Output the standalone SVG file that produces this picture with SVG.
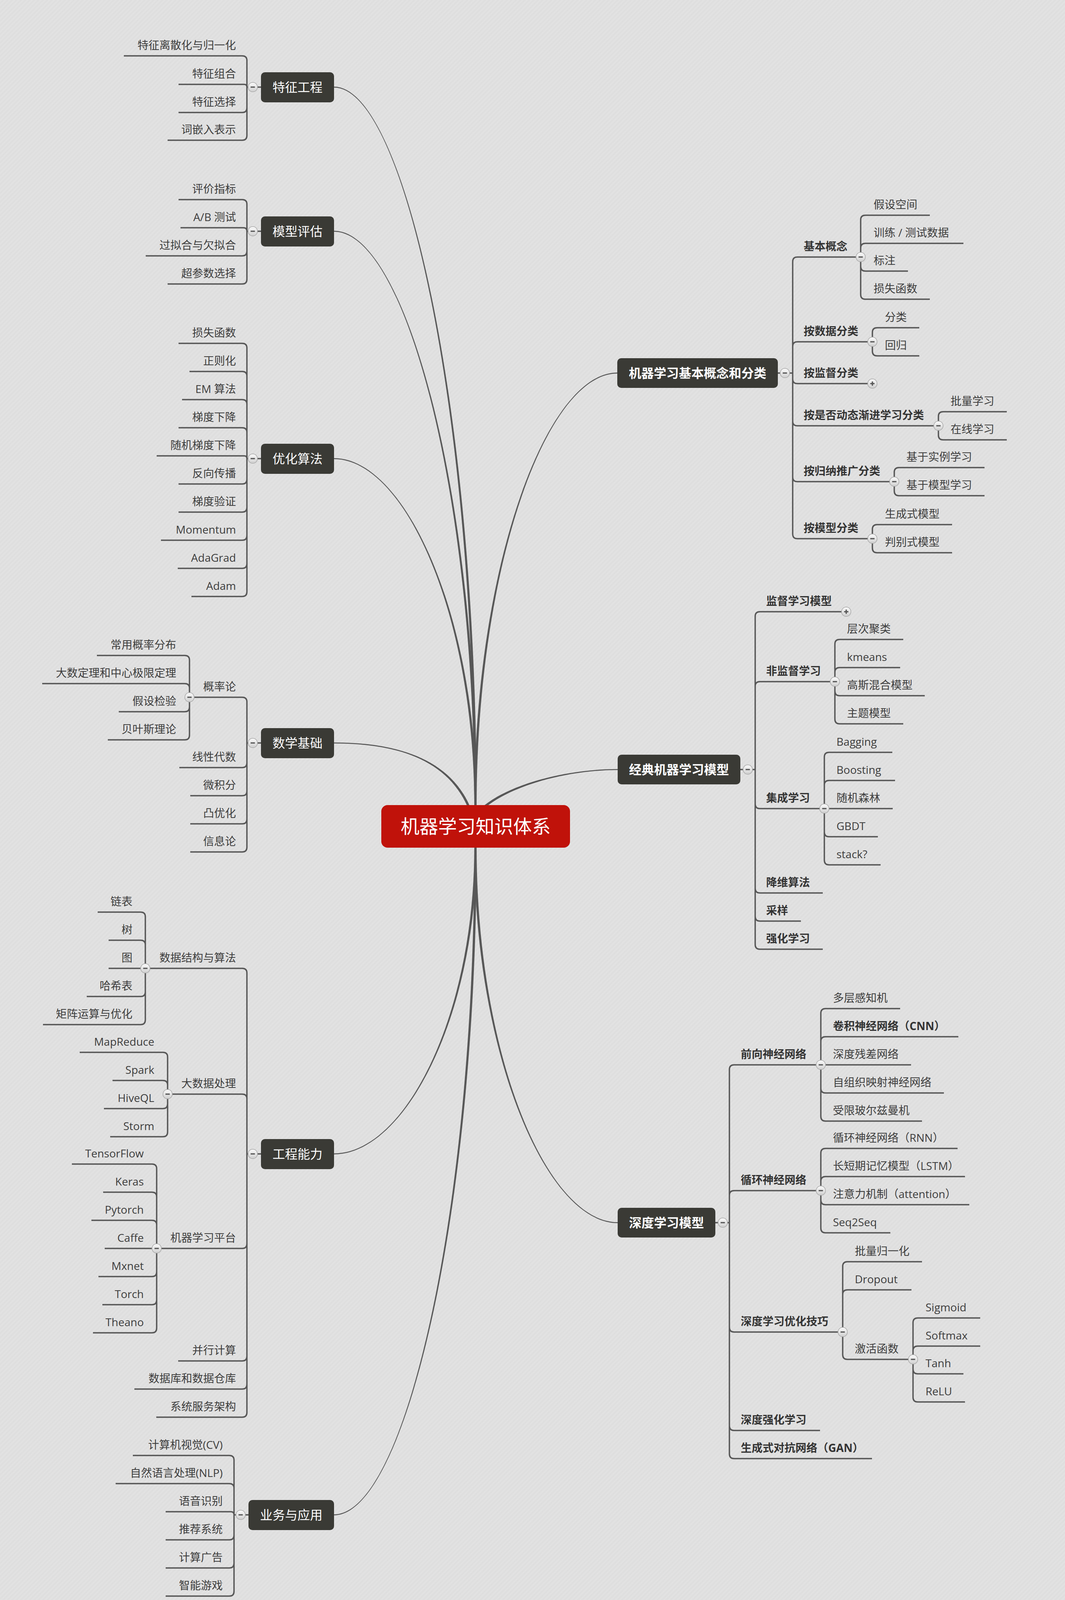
<svg xmlns="http://www.w3.org/2000/svg" xmlns:xlink="http://www.w3.org/1999/xlink" width="2726" height="4228" viewBox="0 0 2726 4228">
<defs>
<style>
text{font-family:"Open Sans","Noto Sans CJK SC",sans-serif}
.c{fill:none;stroke:#575757;stroke-width:3.5}
.m{fill:#575757}
.nb{fill:#3a3a35}
.nt{font-size:32px;fill:#ffffff;text-anchor:middle}
.t{font-size:28px;fill:#3d3d3d}
.e{text-anchor:end}
.b{font-weight:bold;fill:#333333}
.rt{font-size:48px;fill:#ffffff;text-anchor:middle}
</style>
<pattern id="bg" width="8" height="8" patternUnits="userSpaceOnUse" patternTransform="rotate(45)">
<rect width="8" height="8" fill="#dedede"/>
<rect width="4" height="8" fill="#e2e2e2"/>
</pattern>
<linearGradient id="tg" x1="0" y1="0" x2="0" y2="1">
<stop offset="0" stop-color="#fbfbfb"/>
<stop offset="1" stop-color="#cfcfcf"/>
</linearGradient>
<g id="tm"><circle r="12" fill="url(#tg)" stroke="#a9a9a9" stroke-width="1.5"/><rect x="-5.5" y="-1.6" width="11" height="3.2" fill="#555555"/></g>
<g id="tp"><circle r="12" fill="url(#tg)" stroke="#a9a9a9" stroke-width="1.5"/><rect x="-5.5" y="-1.6" width="11" height="3.2" fill="#555555"/><rect x="-1.6" y="-5.5" width="3.2" height="11" fill="#555555"/></g>
</defs>
<rect width="2726" height="4228" fill="url(#bg)"/>

<g id="connectors">
<g id="main-curves">
<path class="m" d="M855,221.75C1036,221.75 1220,1051 1220,2063L1220,2090L1214,2090L1214,2063C1214,1051 1036,224.25 855,224.25Z"/>
<path class="m" d="M855,590.75C1036,590.75 1220,1254 1220,2063L1220,2090L1214,2090L1214,2063C1214,1254 1036,593.25 855,593.25Z"/>
<path class="m" d="M855,1172.75C1036,1172.75 1220,1574 1220,2063L1220,2090L1214,2090L1214,2063C1214,1574 1036,1175.25 855,1175.25Z"/>
<path class="m" d="M855,1900.75C1000,1900.75 1152.8,1933.9 1206.8,2073.9L1201.2,2076.1C1147.2,1936.1 1000,1903.25 855,1903.25Z"/>
<path class="m" d="M1580,956.25C1398,956.25 1220,1454 1220,2063L1220,2090L1214,2090L1214,2063C1214,1454 1398,953.75 1580,953.75Z"/>
<path class="m" d="M1581,1971.25C1450,1971.25 1302,2012.2 1234,2074.2L1230,2069.8C1298,2007.8 1450,1968.75 1581,1968.75Z"/>
<path class="m" d="M855,2952.75C1036,2952.75 1214,2601 1214,2170L1214,2145L1220,2145L1220,2170C1220,2601 1036,2955.25 855,2955.25Z"/>
<path class="m" d="M855,3876.75C1036,3876.75 1214,3109 1214,2170L1214,2145L1220,2145L1220,2170C1220,3109 1036,3879.25 855,3879.25Z"/>
<path class="m" d="M1581,3131.25C1399,3131.25 1214,2698 1214,2170L1214,2145L1220,2145L1220,2170C1220,2698 1399,3128.75 1581,3128.75Z"/>
</g>
<g id="branches">
<path class="c" d="M668,223H632M632,223V155Q632,143 620,143H317M632,223Q632,216 625,216H457M632,223V276Q632,288 620,288H457M632,223V347Q632,359 620,359H429"/>
<path class="c" d="M668,592H632M632,592V523Q632,511 620,511H457M632,592Q632,583 623,583H462M632,592V643Q632,655 620,655H373M632,592V715Q632,727 620,727H429"/>
<path class="c" d="M668,1174H632M632,1174V891Q632,879 620,879H457M632,1174V963Q632,951 620,951H485M632,1174V1035Q632,1023 620,1023H466M632,1174V1107Q632,1095 620,1095H457M632,1174Q632,1167 625,1167H401M632,1174V1227Q632,1239 620,1239H457M632,1174V1299Q632,1311 620,1311H457M632,1174V1371Q632,1383 620,1383H412M632,1174V1443Q632,1455 620,1455H455M632,1174V1515Q632,1527 620,1527H490"/>
<path class="c" d="M668,1902H632M632,1902V1797Q632,1785 620,1785H485M485,1785V1690Q485,1678 473,1678H248M485,1785V1762Q485,1750 473,1750H108M485,1785V1810Q485,1822 473,1822H304M485,1785V1882Q485,1894 473,1894H276M632,1902V1953Q632,1965 620,1965H459M632,1902V2025Q632,2037 620,2037H487M632,1902V2097Q632,2109 620,2109H487M632,1902V2169Q632,2181 620,2181H487"/>
<path class="c" d="M668,2954H632M632,2954V2491Q632,2479 620,2479H372M372,2479V2347Q372,2335 360,2335H250M372,2479V2419Q372,2407 360,2407H278M372,2479H278M372,2479V2539Q372,2551 360,2551H222M372,2479V2611Q372,2623 360,2623H110M632,2954V2813Q632,2801 620,2801H429M429,2801V2706Q429,2694 417,2694H204M429,2801V2778Q429,2766 417,2766H288M429,2801V2826Q429,2838 417,2838H266M429,2801V2898Q429,2910 417,2910H282M632,2954V3184Q632,3196 620,3196H401M401,3196V2992Q401,2980 389,2980H184M401,3196V3064Q401,3052 389,3052H264M401,3196V3136Q401,3124 389,3124H234M401,3196H268M401,3196V3256Q401,3268 389,3268H252M401,3196V3328Q401,3340 389,3340H262M401,3196V3400Q401,3412 389,3412H238M632,2954V3472Q632,3484 620,3484H456M632,2954V3544Q632,3556 620,3556H344M632,2954V3616Q632,3628 620,3628H400"/>
<path class="c" d="M636,3878H599M599,3878V3738Q599,3726 587,3726H340M599,3878V3810Q599,3798 587,3798H296M599,3878Q599,3870 591,3870H424M599,3878V3930Q599,3942 587,3942H424M599,3878V4002Q599,4014 587,4014H424M599,3878V4074Q599,4086 587,4086H424"/>
<path class="c" d="M1991,955H2029M2029,955V670Q2029,658 2041,658H2203M2203,658V563Q2203,551 2215,551H2380M2203,658V635Q2203,623 2215,623H2466M2203,658V682Q2203,694 2215,694H2324M2203,658V754Q2203,766 2215,766H2380M2029,955V887Q2029,875 2041,875H2233M2233,875V851Q2233,839 2245,839H2353M2233,875V899Q2233,911 2245,911H2353M2029,955V970Q2029,982 2041,982H2233M2029,955V1078Q2029,1090 2041,1090H2402M2402,1090V1066Q2402,1054 2414,1054H2577M2402,1090V1114Q2402,1126 2414,1126H2577M2029,955V1221Q2029,1233 2041,1233H2289M2289,1233V1209Q2289,1197 2301,1197H2520M2289,1233V1257Q2289,1269 2301,1269H2520M2029,955V1367Q2029,1379 2041,1379H2233M2233,1379V1355Q2233,1343 2245,1343H2437M2233,1379V1403Q2233,1415 2245,1415H2437"/>
<path class="c" d="M1895,1970H1933M1933,1970V1578Q1933,1566 1945,1566H2166M1933,1970V1757Q1933,1745 1945,1745H2137M2137,1745V1649Q2137,1637 2149,1637H2312M2137,1745V1721Q2137,1709 2149,1709H2304M2137,1745V1769Q2137,1781 2149,1781H2367M2137,1745V1841Q2137,1853 2149,1853H2312M1933,1970V2058Q1933,2070 1945,2070H2110M2110,2070V1938Q2110,1926 2122,1926H2284M2110,2070V2010Q2110,1998 2122,1998H2291M2110,2070H2285M2110,2070V2130Q2110,2142 2122,2142H2247M2110,2070V2202Q2110,2214 2122,2214H2254M1933,1970V2274Q1933,2286 1945,2286H2106M1933,1970V2346Q1933,2358 1945,2358H2050M1933,1970V2418Q1933,2430 1945,2430H2106"/>
<path class="c" d="M1831,3130H1867M1867,3130V2738Q1867,2726 1879,2726H2101M2101,2726V2594Q2101,2582 2113,2582H2304M2101,2726V2666Q2101,2654 2113,2654H2453M2101,2726H2332M2101,2726V2786Q2101,2798 2113,2798H2416M2101,2726V2858Q2101,2870 2113,2870H2360M1867,3130V3060Q1867,3048 1879,3048H2101M2101,3048V2952Q2101,2940 2113,2940H2451M2101,3048V3024Q2101,3012 2113,3012H2470M2101,3048V3072Q2101,3084 2113,3084H2481M2101,3048V3144Q2101,3156 2113,3156H2279M1867,3130V3398Q1867,3410 1879,3410H2157M2157,3410V3242Q2157,3230 2169,3230H2360M2157,3410V3314Q2157,3302 2169,3302H2333M2157,3410V3468Q2157,3480 2169,3480H2337M2337,3480V3386Q2337,3374 2349,3374H2509M2337,3480V3458Q2337,3446 2349,3446H2509M2337,3480V3505Q2337,3517 2349,3517H2466M2337,3480V3577Q2337,3589 2349,3589H2470M1867,3130V3650Q1867,3662 1879,3662H2099M1867,3130V3722Q1867,3734 1879,3734H2232"/>
</g>
</g>

<g id="toggles">
<use href="#tm" x="647" y="223"/><use href="#tm" x="647" y="592"/><use href="#tm" x="647" y="1174"/><use href="#tm" x="647" y="1902"/><use href="#tm" x="485" y="1785"/>
<use href="#tm" x="647" y="2954"/><use href="#tm" x="372" y="2479"/><use href="#tm" x="429" y="2801"/><use href="#tm" x="401" y="3196"/><use href="#tm" x="616" y="3878"/>
<use href="#tm" x="2009" y="955"/><use href="#tm" x="2203" y="658"/><use href="#tm" x="2233" y="875"/><use href="#tp" x="2233" y="982"/><use href="#tm" x="2402" y="1090"/><use href="#tm" x="2289" y="1233"/><use href="#tm" x="2233" y="1379"/>
<use href="#tm" x="1914" y="1970"/><use href="#tp" x="2166" y="1566"/><use href="#tm" x="2137" y="1745"/><use href="#tm" x="2110" y="2070"/>
<use href="#tm" x="1850" y="3130"/><use href="#tm" x="2101" y="2726"/><use href="#tm" x="2101" y="3048"/><use href="#tm" x="2157" y="3410"/><use href="#tm" x="2337" y="3480"/>
</g>

<g id="root"><rect x="976" y="2061" width="483" height="109" rx="16" fill="#c0120a"/><text class="rt" x="1217.5" y="2133">机器学习知识体系</text></g>

<g id="n1"><rect class="nb" x="668" y="185" width="187" height="77" rx="10"/><text class="nt" x="761.5" y="235">特征工程</text></g>
<g id="n1-1"><text class="t e" x="604" y="126">特征离散化与归一化</text></g>
<g id="n1-2"><text class="t e" x="604" y="199">特征组合</text></g>
<g id="n1-3"><text class="t e" x="604" y="271">特征选择</text></g>
<g id="n1-4"><text class="t e" x="604" y="342">词嵌入表示</text></g>

<g id="n2"><rect class="nb" x="668" y="554" width="187" height="77" rx="10"/><text class="nt" x="761.5" y="604">模型评估</text></g>
<g id="n2-1"><text class="t e" x="604" y="494">评价指标</text></g>
<g id="n2-2"><text class="t e" x="604" y="566">A/B 测试</text></g>
<g id="n2-3"><text class="t e" x="604" y="638">过拟合与欠拟合</text></g>
<g id="n2-4"><text class="t e" x="604" y="710">超参数选择</text></g>

<g id="n3"><rect class="nb" x="668" y="1136" width="187" height="77" rx="10"/><text class="nt" x="761.5" y="1186">优化算法</text></g>
<g id="n3-1"><text class="t e" x="604" y="862">损失函数</text></g>
<g id="n3-2"><text class="t e" x="604" y="934">正则化</text></g>
<g id="n3-3"><text class="t e" x="604" y="1006">EM 算法</text></g>
<g id="n3-4"><text class="t e" x="604" y="1078">梯度下降</text></g>
<g id="n3-5"><text class="t e" x="604" y="1150">随机梯度下降</text></g>
<g id="n3-6"><text class="t e" x="604" y="1222">反向传播</text></g>
<g id="n3-7"><text class="t e" x="604" y="1294">梯度验证</text></g>
<g id="n3-8"><text class="t e" x="604" y="1366">Momentum</text></g>
<g id="n3-9"><text class="t e" x="604" y="1438">AdaGrad</text></g>
<g id="n3-10"><text class="t e" x="604" y="1510">Adam</text></g>

<g id="n4"><rect class="nb" x="668" y="1864" width="187" height="77" rx="10"/><text class="nt" x="761.5" y="1914">数学基础</text></g>
<g id="n4-1"><text class="t e" x="604" y="1768">概率论</text></g>
<g id="n4-1-1"><text class="t e" x="451" y="1661">常用概率分布</text></g>
<g id="n4-1-2"><text class="t e" x="451" y="1733">大数定理和中心极限定理</text></g>
<g id="n4-1-3"><text class="t e" x="451" y="1805">假设检验</text></g>
<g id="n4-1-4"><text class="t e" x="451" y="1877">贝叶斯理论</text></g>
<g id="n4-2"><text class="t e" x="604" y="1948">线性代数</text></g>
<g id="n4-3"><text class="t e" x="604" y="2020">微积分</text></g>
<g id="n4-4"><text class="t e" x="604" y="2092">凸优化</text></g>
<g id="n4-5"><text class="t e" x="604" y="2164">信息论</text></g>

<g id="n5"><rect class="nb" x="668" y="2916" width="187" height="77" rx="10"/><text class="nt" x="761.5" y="2966">工程能力</text></g>
<g id="n5-1"><text class="t e" x="604" y="2462">数据结构与算法</text></g>
<g id="n5-1-1"><text class="t e" x="339" y="2318">链表</text></g>
<g id="n5-1-2"><text class="t e" x="339" y="2390">树</text></g>
<g id="n5-1-3"><text class="t e" x="339" y="2462">图</text></g>
<g id="n5-1-4"><text class="t e" x="339" y="2534">哈希表</text></g>
<g id="n5-1-5"><text class="t e" x="339" y="2606">矩阵运算与优化</text></g>
<g id="n5-2"><text class="t e" x="604" y="2784">大数据处理</text></g>
<g id="n5-2-1"><text class="t e" x="395" y="2677">MapReduce</text></g>
<g id="n5-2-2"><text class="t e" x="395" y="2749">Spark</text></g>
<g id="n5-2-3"><text class="t e" x="395" y="2821">HiveQL</text></g>
<g id="n5-2-4"><text class="t e" x="395" y="2893">Storm</text></g>
<g id="n5-3"><text class="t e" x="604" y="3179">机器学习平台</text></g>
<g id="n5-3-1"><text class="t e" x="368" y="2963">TensorFlow</text></g>
<g id="n5-3-2"><text class="t e" x="368" y="3035">Keras</text></g>
<g id="n5-3-3"><text class="t e" x="368" y="3107">Pytorch</text></g>
<g id="n5-3-4"><text class="t e" x="368" y="3179">Caffe</text></g>
<g id="n5-3-5"><text class="t e" x="368" y="3251">Mxnet</text></g>
<g id="n5-3-6"><text class="t e" x="368" y="3323">Torch</text></g>
<g id="n5-3-7"><text class="t e" x="368" y="3395">Theano</text></g>
<g id="n5-4"><text class="t e" x="604" y="3467">并行计算</text></g>
<g id="n5-5"><text class="t e" x="604" y="3539">数据库和数据仓库</text></g>
<g id="n5-6"><text class="t e" x="604" y="3611">系统服务架构</text></g>

<g id="n6"><rect class="nb" x="636" y="3840" width="219" height="77" rx="10"/><text class="nt" x="745.5" y="3890">业务与应用</text></g>
<g id="n6-1"><text class="t e" x="570" y="3709">计算机视觉(CV)</text></g>
<g id="n6-2"><text class="t e" x="570" y="3781">自然语言处理(NLP)</text></g>
<g id="n6-3"><text class="t e" x="570" y="3853">语音识别</text></g>
<g id="n6-4"><text class="t e" x="570" y="3925">推荐系统</text></g>
<g id="n6-5"><text class="t e" x="570" y="3997">计算广告</text></g>
<g id="n6-6"><text class="t e" x="570" y="4069">智能游戏</text></g>

<g id="n7"><rect class="nb" x="1580" y="917" width="411" height="76" rx="10"/><text class="nt" x="1785.5" y="967" font-weight="bold">机器学习基本概念和分类</text></g>
<g id="n7-1"><text class="t b" x="2057" y="641">基本概念</text></g>
<g id="n7-1-1"><text class="t" x="2236" y="534">假设空间</text></g>
<g id="n7-1-2"><text class="t" x="2236" y="606">训练 / 测试数据</text></g>
<g id="n7-1-3"><text class="t" x="2236" y="677">标注</text></g>
<g id="n7-1-4"><text class="t" x="2236" y="749">损失函数</text></g>
<g id="n7-2"><text class="t b" x="2057" y="858">按数据分类</text></g>
<g id="n7-2-1"><text class="t" x="2265" y="822">分类</text></g>
<g id="n7-2-2"><text class="t" x="2265" y="894">回归</text></g>
<g id="n7-3"><text class="t b" x="2057" y="965">按监督分类</text></g>
<g id="n7-4"><text class="t b" x="2057" y="1073">按是否动态渐进学习分类</text></g>
<g id="n7-4-1"><text class="t" x="2433" y="1037">批量学习</text></g>
<g id="n7-4-2"><text class="t" x="2433" y="1109">在线学习</text></g>
<g id="n7-5"><text class="t b" x="2057" y="1216">按归纳推广分类</text></g>
<g id="n7-5-1"><text class="t" x="2320" y="1180">基于实例学习</text></g>
<g id="n7-5-2"><text class="t" x="2320" y="1252">基于模型学习</text></g>
<g id="n7-6"><text class="t b" x="2057" y="1362">按模型分类</text></g>
<g id="n7-6-1"><text class="t" x="2265" y="1326">生成式模型</text></g>
<g id="n7-6-2"><text class="t" x="2265" y="1398">判别式模型</text></g>

<g id="n8"><rect class="nb" x="1581" y="1932" width="314" height="76" rx="10"/><text class="nt" x="1738" y="1982" font-weight="bold">经典机器学习模型</text></g>
<g id="n8-1"><text class="t b" x="1961" y="1549">监督学习模型</text></g>
<g id="n8-2"><text class="t b" x="1961" y="1728">非监督学习</text></g>
<g id="n8-2-1"><text class="t" x="2168" y="1620">层次聚类</text></g>
<g id="n8-2-2"><text class="t" x="2168" y="1692">kmeans</text></g>
<g id="n8-2-3"><text class="t" x="2168" y="1764">高斯混合模型</text></g>
<g id="n8-2-4"><text class="t" x="2168" y="1836">主题模型</text></g>
<g id="n8-3"><text class="t b" x="1961" y="2053">集成学习</text></g>
<g id="n8-3-1"><text class="t" x="2141" y="1909">Bagging</text></g>
<g id="n8-3-2"><text class="t" x="2141" y="1981">Boosting</text></g>
<g id="n8-3-3"><text class="t" x="2141" y="2053">随机森林</text></g>
<g id="n8-3-4"><text class="t" x="2141" y="2125">GBDT</text></g>
<g id="n8-3-5"><text class="t" x="2141" y="2197">stack?</text></g>
<g id="n8-4"><text class="t b" x="1961" y="2269">降维算法</text></g>
<g id="n8-5"><text class="t b" x="1961" y="2341">采样</text></g>
<g id="n8-6"><text class="t b" x="1961" y="2413">强化学习</text></g>

<g id="n9"><rect class="nb" x="1581" y="3092" width="250" height="76" rx="10"/><text class="nt" x="1706" y="3142" font-weight="bold">深度学习模型</text></g>
<g id="n9-1"><text class="t b" x="1896" y="2709">前向神经网络</text></g>
<g id="n9-1-1"><text class="t" x="2132" y="2565">多层感知机</text></g>
<g id="n9-1-2"><text class="t b" x="2132" y="2637">卷积神经网络（CNN）</text></g>
<g id="n9-1-3"><text class="t" x="2132" y="2709">深度残差网络</text></g>
<g id="n9-1-4"><text class="t" x="2132" y="2781">自组织映射神经网络</text></g>
<g id="n9-1-5"><text class="t" x="2132" y="2853">受限玻尔兹曼机</text></g>
<g id="n9-2"><text class="t b" x="1896" y="3031">循环神经网络</text></g>
<g id="n9-2-1"><text class="t" x="2132" y="2923">循环神经网络（RNN）</text></g>
<g id="n9-2-2"><text class="t" x="2132" y="2995">长短期记忆模型（LSTM）</text></g>
<g id="n9-2-3"><text class="t" x="2132" y="3067">注意力机制（attention）</text></g>
<g id="n9-2-4"><text class="t" x="2132" y="3139">Seq2Seq</text></g>
<g id="n9-3"><text class="t b" x="1896" y="3393">深度学习优化技巧</text></g>
<g id="n9-3-1"><text class="t" x="2188" y="3213">批量归一化</text></g>
<g id="n9-3-2"><text class="t" x="2188" y="3285">Dropout</text></g>
<g id="n9-3-3"><text class="t" x="2188" y="3463">激活函数</text></g>
<g id="n9-3-3-1"><text class="t" x="2369" y="3357">Sigmoid</text></g>
<g id="n9-3-3-2"><text class="t" x="2369" y="3429">Softmax</text></g>
<g id="n9-3-3-3"><text class="t" x="2369" y="3500">Tanh</text></g>
<g id="n9-3-3-4"><text class="t" x="2369" y="3572">ReLU</text></g>
<g id="n9-4"><text class="t b" x="1896" y="3645">深度强化学习</text></g>
<g id="n9-5"><text class="t b" x="1896" y="3717">生成式对抗网络（GAN）</text></g>
</svg>
